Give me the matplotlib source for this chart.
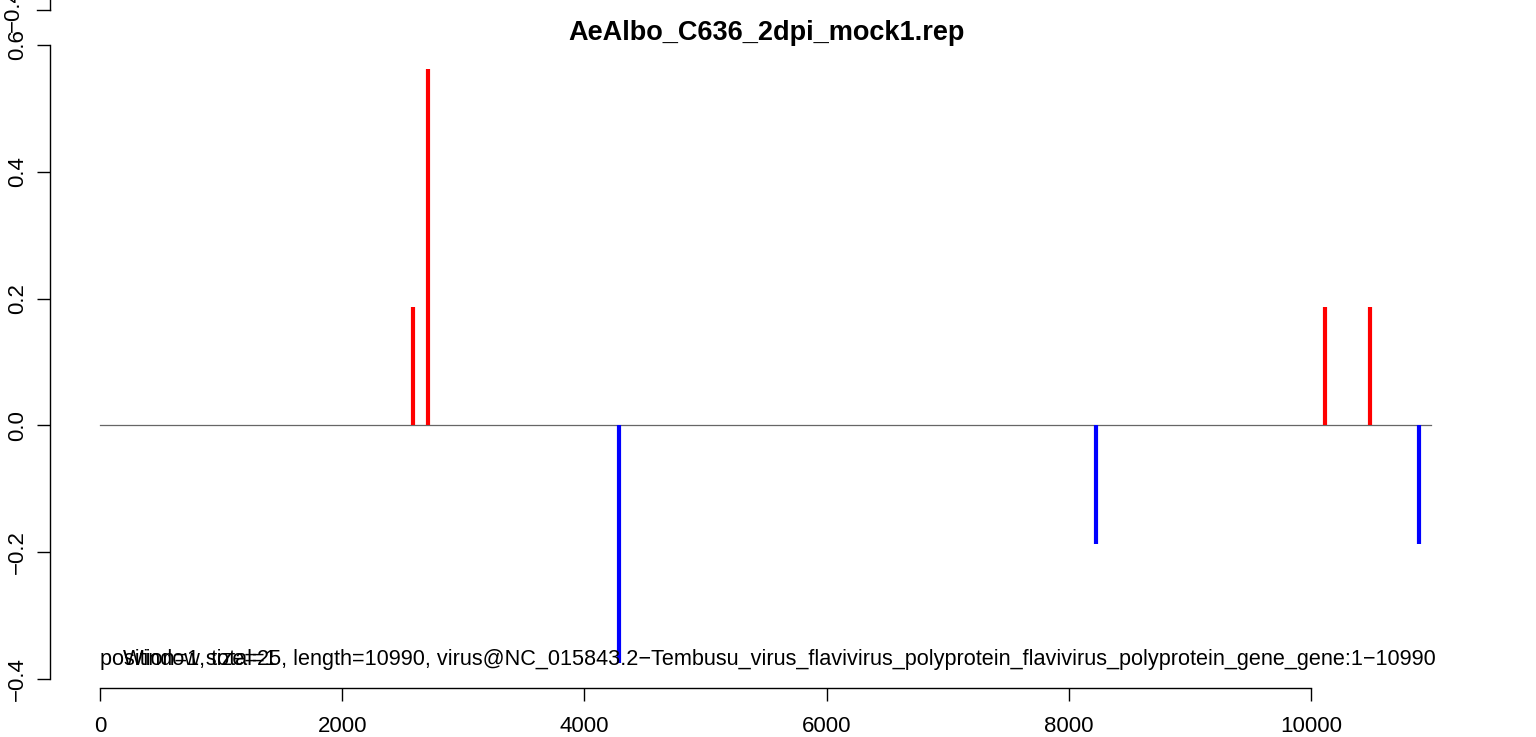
import matplotlib
matplotlib.use("Agg")
import matplotlib.pyplot as plt

plt.rcParams['font.family'] = ['Liberation Sans', 'DejaVu Sans']

title = "AeAlbo_C636_2dpi_mock1.rep"
genome_length = 10990
pos_positions = [2583, 2707, 10116, 10488]
pos_values = [0.1875, 0.5625, 0.1875, 0.1875]
neg_positions = [4286, 8225, 10890]
neg_values = [-0.375, -0.1875, -0.1875]
x_ticks = [0, 2000, 4000, 6000, 8000, 10000]
y_ticks = [-0.4, -0.2, 0.0, 0.2, 0.4, 0.6]
note1 = "position=1, total=1"
note2 = ("Window size=25, length=10990, virus@NC_015843.2\u2212Tembusu_virus_flavivirus_polyprotein_"
         "flavivirus_polyprotein_gene_gene:1\u221210990")

W, H = 1536, 737
fig = plt.figure(figsize=(W / 100, H / 100), dpi=100)
left_px, right_px, top_px, bot_px = 50, 1484, 45, 688
ax = fig.add_axes([left_px / W, 1 - bot_px / H, (right_px - left_px) / W, (bot_px - top_px) / H])

px_per_x = (1311 - 100) / 10000
ax.set_xlim(-(100 - left_px) / px_per_x, (right_px - 100) / px_per_x)
px_per_y = (679 - 45) / 1.0
ax.set_ylim(0.6 - (bot_px - top_px) / px_per_y, 0.6)

ax.plot([1, genome_length], [0, 0], color='#666666', lw=0.9, zorder=1)
ax.vlines(pos_positions, 0, pos_values, color='red', lw=3.0, zorder=2)
ax.vlines(neg_positions, 0, neg_values, color='blue', lw=3.0, zorder=2)

for s in ['top', 'right']:
    ax.spines[s].set_visible(False)
ax.spines['left'].set_bounds(y_ticks[0], y_ticks[-1])
ax.spines['bottom'].set_bounds(x_ticks[0], x_ticks[-1])
for s in ['left', 'bottom']:
    ax.spines[s].set_linewidth(1.0)
ax.set_xticks(x_ticks)
ax.set_xticklabels([str(t) for t in x_ticks], fontsize=16)
ax.set_yticks(y_ticks)
ax.set_yticklabels([f"{t:.1f}".replace('-', '\u2212') for t in y_ticks], fontsize=16,
                   rotation=90, va='center')
tick_len = 13 * 72 / 100
ax.tick_params(axis='both', length=tick_len, width=1.0, direction='out')
ax.tick_params(axis='x', pad=11)
ax.tick_params(axis='y', pad=6.5)

# stray extra axis tick at the top edge
x0 = ax.get_xlim()[0]
ytop = 0.6 + (45 - 10) / px_per_y
yfig = 0.6 + 45 / px_per_y
ax.plot([x0, x0], [ytop, yfig + 0.01], color='black', lw=1.0, clip_on=False)
ax.plot([x0 - 13 / px_per_x, x0], [ytop, ytop], color='black', lw=1.0, clip_on=False)
fig.text(13 / W, 1 - 10 / H, "\u22120.4", rotation=90, fontsize=16, ha='center', va='center')

fig.text(0.5 * (left_px + right_px) / W, 1 - 33 / H, title, fontsize=19.5, fontweight='bold',
         ha='center', va='center')
ax.text(1, -0.369, note1, fontsize=15.6, ha='left', va='center')
ax.text(190, -0.369, note2, fontsize=15.6, ha='left', va='center')

fig.savefig("out.png", dpi=100)
